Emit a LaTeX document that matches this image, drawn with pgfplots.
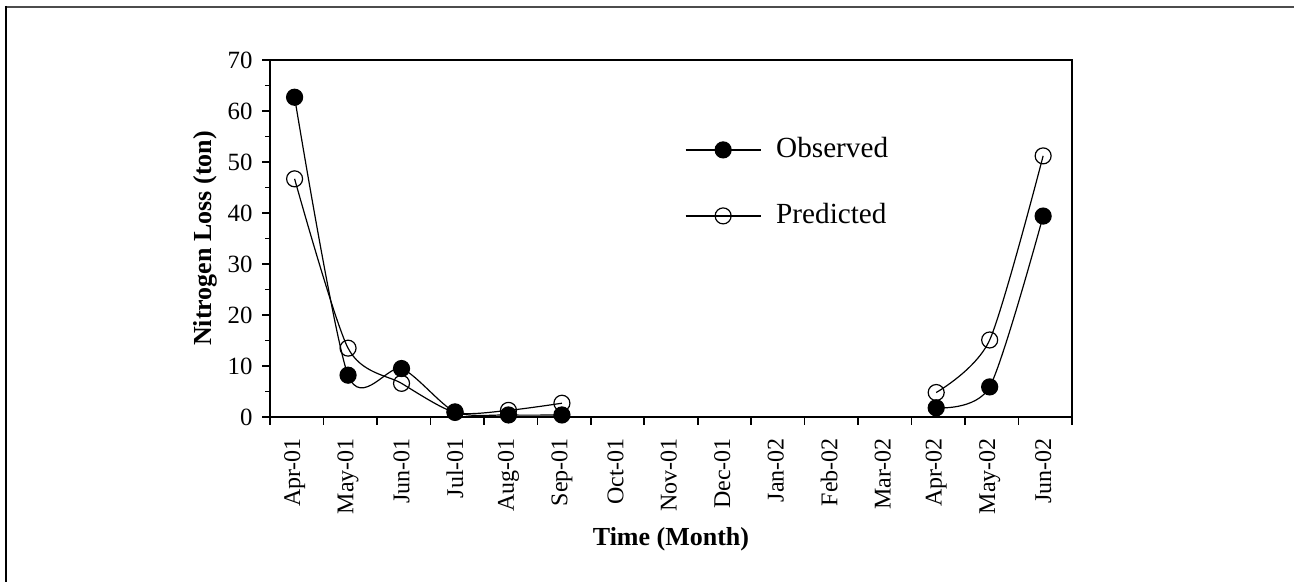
\documentclass[border=0pt]{standalone}
\usepackage{fontspec}
\setmainfont{Liberation Serif}
\usepackage{pgfplots}
\pgfplotsset{compat=1.18}
\begin{document}
\begin{tikzpicture}
\path[use as bounding box] (-135pt,-82.5pt) rectangle (512pt,208.5pt);
\draw[line width=1pt, black!70] (-132.5pt,205pt) -- (512pt,205pt);
\draw[line width=1pt, black] (-132pt,205.5pt) -- (-132pt,-82.5pt);
\begin{axis}[
  at={(0,0)}, anchor=south west,
  scale only axis, width=401pt, height=178.5pt,
  xmin=0, xmax=15, ymin=0, ymax=70,
  axis line style={line width=0.9pt},
  tick style={line width=0.8pt, black},
  tick align=outside,
  xtick pos=bottom, ytick pos=left,
  major tick length=4pt, minor tick length=2.5pt,
  xtick={0,1,...,15}, xticklabels={},
  extra x ticks={0.46,1.46,2.46,3.46,4.46,5.46,6.46,7.46,8.46,9.46,10.46,11.46,12.46,13.46,14.46},
  extra x tick labels={Apr-01,May-01,Jun-01,Jul-01,Aug-01,Sep-01,Oct-01,Nov-01,Dec-01,Jan-02,Feb-02,Mar-02,Apr-02,May-02,Jun-02},
  extra x tick style={major tick length=0pt, xticklabel shift=7pt},
  xticklabel style={rotate=90, anchor=east, font=\fontsize{12}{14}\selectfont},
  ytick={0,10,...,70}, minor y tick num=1,
  yticklabel style={font=\fontsize{12.4}{14}\selectfont},
  yticklabel shift=1.2pt,
  /pgf/number format/assume math mode=true,
  xlabel={Time (Month)}, ylabel={Nitrogen Loss (ton)},
  label style={font=\fontsize{13}{15}\selectfont\bfseries},
  xlabel style={at={(axis description cs:0.5,-0.342)}, anchor=center},
  ylabel style={at={(axis description cs:-0.081,0.5)}, anchor=center},
  reverse legend,
  legend style={draw=none, fill=none, inner sep=0pt, outer sep=0pt,
    at={(rel axis cs:0.5175,0.786)}, anchor=north west,
    font=\fontsize{14.6}{17}\selectfont,
    nodes={inner sep=0pt, text height=10.5pt, text depth=3pt},
    row sep=19.5pt, column sep=7.5pt},
  legend cell align=left,
  legend image code/.code={\draw[mark repeat=2, mark phase=2, #1] plot coordinates {(0pt,0pt) (18.75pt,0pt) (37.5pt,0pt)};},
]
\addplot[black, line width=0.6pt, smooth, tension=0.45, mark=o, mark size=4pt, mark options={line width=0.6pt, fill=none}] coordinates {
 (0.46,46.7) (1.46,13.5) (2.46,6.6) (3.46,0.9) (4.46,1.3) (5.46,2.7)};
\addlegendentry{Predicted}
\addplot[black, line width=0.6pt, smooth, tension=0.45, mark=o, mark size=4pt, mark options={line width=0.6pt, fill=none}, forget plot] coordinates {
 (12.46,4.8) (13.46,15.1) (14.46,51.2)};
\addplot[black, line width=0.6pt, smooth, tension=0.45, mark=*, mark size=4pt, mark options={fill=black}] coordinates {
 (0.46,62.7) (1.46,8.2) (2.46,9.5) (3.46,1.0) (4.46,0.4) (5.46,0.4)};
\addlegendentry{Observed}
\addplot[black, line width=0.6pt, smooth, tension=0.45, mark=*, mark size=4pt, mark options={fill=black}, forget plot] coordinates {
 (12.46,1.8) (13.46,5.9) (14.46,39.4)};
\end{axis}
\end{tikzpicture}
\end{document}
